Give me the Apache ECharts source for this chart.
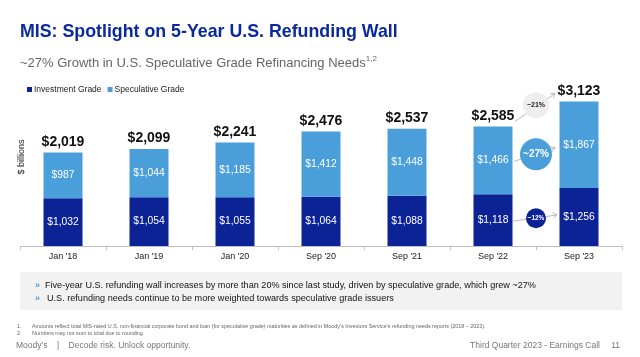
<!DOCTYPE html>
<html><head><meta charset="utf-8">
<script src="https://cdn.jsdelivr.net/npm/echarts@6/dist/echarts.min.js"></script>
<style>html,body{margin:0;padding:0;background:#fff}#c{width:640px;height:357px}</style>
</head><body><div id="c"></div>
<script>
const categories = ["Jan '18", "Jan '19", "Jan '20", "Sep '20", "Sep '21", "Sep '22", "Sep '23"];
const investmentGrade = [1032, 1054, 1055, 1064, 1088, 1118, 1256];
const speculativeGrade = [987, 1044, 1185, 1412, 1448, 1466, 1867];
const totals = [2019, 2099, 2241, 2476, 2537, 2585, 3123];
const growthNotes = [
  {text: '~21%', value: 3045, r: 13, fill: '#eeeeee', color: '#222', size: 7},
  {text: '~27%', value: 1985, r: 16, fill: '#4a9fdb', color: '#fff', size: 10},
  {text: '~12%', value: 600, r: 10, fill: '#0c2396', color: '#fff', size: 6.5}
];
const FONT = '"Liberation Sans", Arial, sans-serif';
const DARK = '#0c2396', LIGHT = '#4a9fdb';
const fmt = v => '$' + v.toLocaleString('en-US');

const chart = echarts.init(document.getElementById('c'), null, {renderer: 'canvas'});
chart.setOption({
  animation: false,
  textStyle: {fontFamily: FONT},
  title: [{
    text: 'MIS: Spotlight on 5-Year U.S. Refunding Wall', left: 15, top: 18,
    textStyle: {fontFamily: FONT, fontSize: 17.8, fontWeight: 'bold', color: '#0a2a9c'}
  }, {
    text: '~27% Growth in U.S. Speculative Grade Refinancing Needs{s|1,2}', left: 15, top: 50,
    textStyle: {fontFamily: FONT, fontSize: 13, fontWeight: 'normal', color: '#666', rich: {s: {fontSize: 8, color: '#666', verticalAlign: 'top', padding: [0,0,8,0]}}}
  }],
  legend: {
    left: 22, top: 80, itemWidth: 5, itemHeight: 5, itemGap: 6,
    icon: 'rect', textStyle: {fontFamily: FONT, fontSize: 8.5, color: '#222', padding: [0,0,0,-3]},
    data: ['Investment Grade', 'Speculative Grade']
  },
  grid: {left: 20, right: 18, top: 61, bottom: 111, containLabel: false},
  xAxis: {
    type: 'category', data: categories,
    axisLine: {lineStyle: {color: '#bfbfbf'}},
    axisTick: {show: true, length: 4, lineStyle: {color: '#bfbfbf'}},
    axisLabel: {fontFamily: FONT, fontSize: 9, color: '#222', margin: 6}
  },
  yAxis: {
    type: 'value', min: 0, max: 4000, show: false
  },
  series: [{
    name: 'Investment Grade', type: 'bar', stack: 's', data: investmentGrade,
    barWidth: 39, itemStyle: {color: DARK},
    label: {show: true, position: 'inside', formatter: p => fmt(p.value), color: '#fff', fontSize: 10.3, fontFamily: FONT}
  }, {
    name: 'Speculative Grade', type: 'bar', stack: 's', data: speculativeGrade,
    barWidth: 39, itemStyle: {color: LIGHT},
    label: {show: true, position: 'inside', formatter: p => fmt(p.value), color: '#fff', fontSize: 10.3, fontFamily: FONT}
  }, {
    name: 'Total', type: 'line', data: totals, symbol: 'circle', symbolSize: 1, showSymbol: true,
    itemStyle: {opacity: 0}, lineStyle: {opacity: 0},
    label: {show: true, position: 'top', distance: 3, formatter: p => fmt(p.value), color: '#111', fontSize: 14, fontWeight: 'bold', fontFamily: FONT, opacity: 1},
    labelLayout: {hideOverlap: false},
    tooltip: {show: false}, silent: true
  }]
});

const px = (i, v) => chart.convertToPixel({xAxisIndex: 0, yAxisIndex: 0}, [i, v]);
const x5 = px(5, 0)[0], x6 = px(6, 0)[0];
const cx = (x5 + x6) / 2;
const graphics = [];
const arrowPairs = [
  [[x5 + 22, px(5, totals[5])[1] - 5], [x6 - 24, px(6, totals[6])[1] - 8]],
  [[x5 + 21, px(5, investmentGrade[5] + speculativeGrade[5] / 2)[1] + 1], [x6 - 24, px(6, investmentGrade[6] + speculativeGrade[6] / 2)[1] + 3]],
  [[x5 + 20, px(5, investmentGrade[5] / 2)[1] + 1], [x6 - 22, px(6, investmentGrade[6] / 2)[1] - 2]]
];
arrowPairs.forEach(([a, b]) => {
  graphics.push({type: 'line', shape: {x1: a[0], y1: a[1], x2: b[0], y2: b[1]}, style: {stroke: '#aaaaaa', lineWidth: 0.8}, z: 10});
  const ang = Math.atan2(b[1] - a[1], b[0] - a[0]);
  const L = 5, w = 0.6;
  graphics.push({type: 'polyline', shape: {points: [
    [b[0] - L * Math.cos(ang - w), b[1] - L * Math.sin(ang - w)], b,
    [b[0] - L * Math.cos(ang + w), b[1] - L * Math.sin(ang + w)]]},
    style: {stroke: '#aaaaaa', lineWidth: 0.8, fill: null}, z: 10});
});
growthNotes.forEach(n => {
  const cy = px(5, n.value)[1];
  graphics.push({type: 'circle', shape: {cx: cx, cy: cy, r: n.r}, style: {fill: n.fill}, z: 11});
  graphics.push({type: 'text', x: cx, y: cy, style: {text: n.text, fill: n.color, font: 'bold ' + n.size + 'px ' + FONT, align: 'center', verticalAlign: 'middle'}, z: 12});
});
// y axis name
graphics.push({type: 'text', x: 22, y: 157, rotation: Math.PI / 2, style: {text: '$ billions', fill: '#222', font: '9px ' + FONT, align: 'center', verticalAlign: 'middle'}});
// bottom box
graphics.push({type: 'rect', shape: {x: 20, y: 272, width: 602, height: 38}, style: {fill: '#f2f2f2'}, z: 1});
const bullets = [
  ['Five-year U.S. refunding wall increases by more than 20% since last study, driven by speculative grade, which grew ~27%', 285.5, 45],
  ['U.S. refunding needs continue to be more weighted towards speculative grade issuers', 298.5, 47]
];
bullets.forEach(([t, y, x]) => {
  graphics.push({type: 'text', x: 35, y: y, style: {text: '»', fill: '#4a9fdb', font: 'bold 9px ' + FONT, verticalAlign: 'middle'}, z: 2});
  graphics.push({type: 'text', x: x, y: y, style: {text: t, fill: '#111', font: '9.1px ' + FONT, verticalAlign: 'middle'}, z: 2});
});
const notes = [
  ['1.', 'Amounts reflect total MIS-rated U.S. non-financial corporate bond and loan (for speculative grade) maturities as defined in Moody\u2019s Investors Service\u2019s refunding needs reports (2018 \u2013 2023).', 327],
  ['2.', 'Numbers may not sum to total due to rounding.', 334]
];
notes.forEach(([n, t, y]) => {
  graphics.push({type: 'text', x: 17, y: y, style: {text: n, fill: '#666', font: '5.4px ' + FONT, verticalAlign: 'middle'}});
  graphics.push({type: 'text', x: 32, y: y, style: {text: t, fill: '#666', font: '5.4px ' + FONT, verticalAlign: 'middle'}});
});
graphics.push({type: 'text', x: 16, y: 346, style: {text: 'Moody\u2019s    |    Decode risk. Unlock opportunity.', fill: '#777', font: '8.5px ' + FONT, verticalAlign: 'middle'}});
graphics.push({type: 'text', x: 600, y: 346, style: {text: 'Third Quarter 2023 - Earnings Call', fill: '#777', font: '8.5px ' + FONT, align: 'right', verticalAlign: 'middle'}});
graphics.push({type: 'text', x: 620, y: 346, style: {text: '11', fill: '#777', font: '8.5px ' + FONT, align: 'right', verticalAlign: 'middle'}});
chart.setOption({graphic: graphics});
</script></body></html>
